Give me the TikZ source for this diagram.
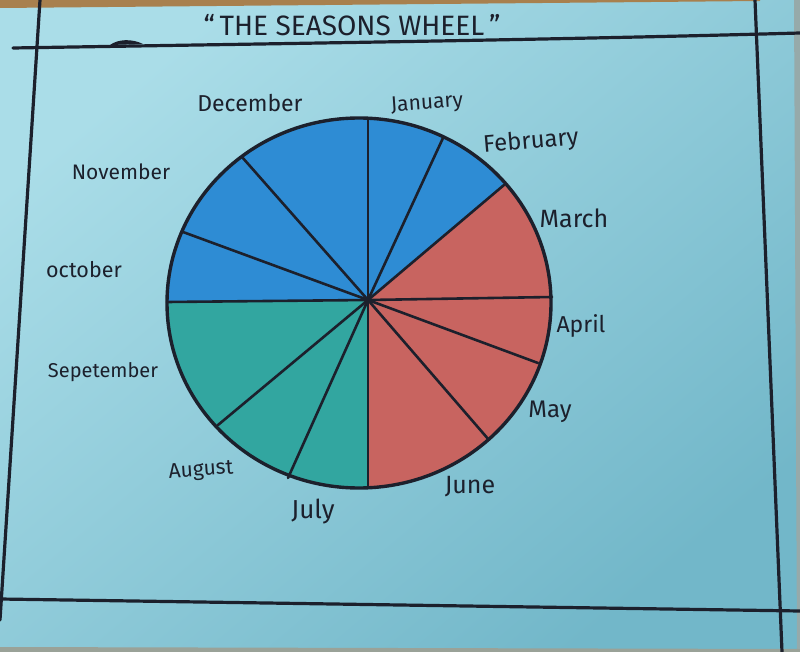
\documentclass[tikz,border=0pt]{standalone}
\usepackage{fontspec}
\setmainfont{Fira Sans}
\usetikzlibrary{calc}
\definecolor{paperA}{RGB}{170,221,232}
\definecolor{paperB}{RGB}{114,183,201}
\definecolor{ink}{RGB}{28,32,44}
\definecolor{wblue}{RGB}{46,140,212}
\definecolor{wred}{RGB}{200,100,96}
\definecolor{wteal}{RGB}{50,166,160}
\definecolor{wood}{RGB}{168,128,78}
\definecolor{edge}{RGB}{150,170,170}
\begin{document}
\begin{tikzpicture}[x=1pt,y=-1pt,
  frameline/.style={draw=ink,line width=3.2pt,line cap=round},
  spoke/.style={draw=ink,line width=2.6pt,line cap=round},
  rim/.style={draw=ink,line width=3.4pt},
  month/.style={text=ink,inner sep=0pt,anchor=center},
  titletext/.style={text=ink,inner sep=0pt,font=\fontsize{28}{28}\selectfont}
]
\useasboundingbox (0,0) rectangle (800,652);
% paper
\shade[shading=axis,top color=paperA,bottom color=paperB,shading angle=40] (0,0) rectangle (800,652);
\fill[wood] (0,0) -- (760,0) -- (760,1) -- (0,8) -- cycle;
\fill[edge] (794,0) -- (800,0) -- (800,652) -- (797,652) -- cycle;
\fill[edge!80!wood] (0,647) -- (800,649) -- (800,652) -- (0,652) -- cycle;
% frame lines
\draw[frameline] (13,48) .. controls (250,44) and (550,40) .. (800,33);
\fill[ink] (110,45) .. controls (118,39) and (132,38.5) .. (143,44) -- cycle;
\draw[frameline] (40,0) -- (0,620);
\draw[frameline] (755,0) -- (782,652);
\draw[frameline] (0,599) -- (800,611);
% title
\node[titletext] (title) at (352,25) {“\,THE SEASONS WHEEL\,”};
% wheel geometry
\coordinate (hub) at (368,300);
\coordinate (e0) at (368,118);
\coordinate (e1) at (443,138);
\coordinate (e2) at (504,185);
\coordinate (e3) at (552,297);
\coordinate (e4) at (538,363);
\coordinate (e5) at (489,440);
\coordinate (e6) at (368,488);
\coordinate (e7) at (288,478);
\coordinate (e8) at (218,425);
\coordinate (e9) at (167,302);
\coordinate (e10) at (183,232);
\coordinate (e11) at (242,157);
\begin{scope}
\clip (359,303) ellipse [x radius=192, y radius=185];
\fill[wblue] (hub) -- ($(hub)!1.6!(e9)$) -- ($(hub)!1.6!(e10)$) -- ($(hub)!1.6!(e11)$)
  -- ($(hub)!1.6!(e0)$) -- ($(hub)!1.6!(e1)$) -- ($(hub)!1.6!(e2)$) -- cycle;
\fill[wred] (hub) -- ($(hub)!1.6!(e2)$) -- ($(hub)!1.6!(e3)$) -- ($(hub)!1.6!(e4)$)
  -- ($(hub)!1.6!(e5)$) -- ($(hub)!1.6!(e6)$) -- cycle;
\fill[wteal] (hub) -- ($(hub)!1.6!(e6)$) -- ($(hub)!1.6!(e7)$) -- ($(hub)!1.6!(e8)$)
  -- ($(hub)!1.6!(e9)$) -- cycle;
\end{scope}
\foreach \i in {0,...,11} \draw[spoke] (hub) -- (e\i);
\draw[rim] (359,303) ellipse [x radius=192, y radius=185];
% month labels
\node[month,font=\fontsize{23}{23}\selectfont] (dec) at (250,103) {December};
\node[month,font=\fontsize{21}{21}\selectfont,rotate=4] (jan) at (427,104) {January};
\node[month,font=\fontsize{24}{24}\selectfont,rotate=5] (feb) at (531,142) {February};
\node[month,font=\fontsize{25}{25}\selectfont] (mar) at (574,218) {March};
\node[month,font=\fontsize{23}{23}\selectfont] (apr) at (581,326) {April};
\node[month,font=\fontsize{24}{24}\selectfont] (may) at (550,412) {May};
\node[month,font=\fontsize{25}{25}\selectfont] (jun) at (470,487) {June};
\node[month,font=\fontsize{26}{26}\selectfont] (jul) at (313,512) {July};
\node[month,font=\fontsize{21}{21}\selectfont,rotate=4] (aug) at (201,471) {August};
\node[month,font=\fontsize{20}{20}\selectfont] (sep) at (103,372) {Sepetember};
\node[month,font=\fontsize{21.5}{21.5}\selectfont] (oct) at (84,270) {october};
\node[month,font=\fontsize{21}{21}\selectfont] (nov) at (121,172) {November};
\end{tikzpicture}
\end{document}
